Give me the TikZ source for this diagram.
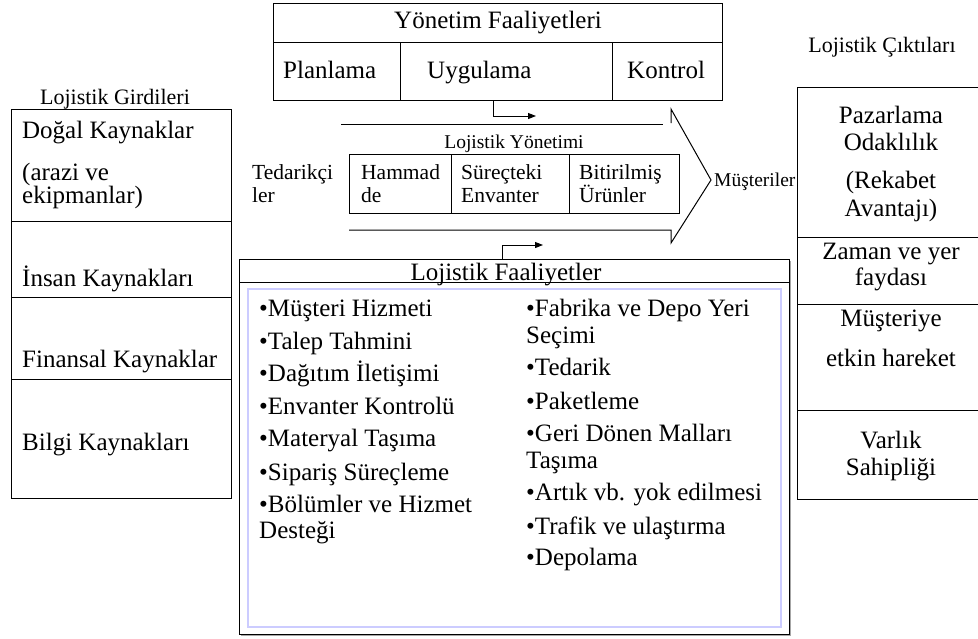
\documentclass[tikz,border=0pt]{standalone}
\usepackage{fontspec}
\setmainfont{Liberation Serif}
\usetikzlibrary{arrows.meta}
\begin{document}
\begin{tikzpicture}[x=1pt,y=-1pt,
  frame/.style={draw=black,line width=1pt,inner sep=0pt,anchor=north west},
  rule/.style={draw=black,line width=1pt},
  big/.style={font=\fontsize{25}{27}\selectfont,inner sep=0pt},
  mid/.style={font=\fontsize{21.5}{23}\selectfont,inner sep=0pt},
  small/.style={font=\fontsize{19.5}{21}\selectfont,inner sep=0pt},
  headtxt/.style={font=\fontsize{22}{24}\selectfont,inner sep=0pt},
  lt/.style={big,anchor=base west},
  ct/.style={big,anchor=base},
  flow/.style={line width=1pt,-{Triangle[length=8pt,width=6pt]}},
]
\useasboundingbox (0,0) rectangle (978,638);
\begin{scope}
\clip (0,0) rectangle (978,638);

% ---------- management activities ----------
\node[frame,minimum width=449pt,minimum height=97pt] (yonetim) at (273,3) {};
\draw[rule] (273,42) -- (722,42);
\draw[rule] (400,42) -- (400,100);
\draw[rule] (612,42) -- (612,100);
\node[ct] (ytitle) at (498,28) {Yönetim Faaliyetleri};
\node[lt] (plan) at (283,78) {Planlama};
\node[lt] (uygu) at (427,78) {Uygulama};
\node[lt] (kontrol) at (627,78) {Kontrol};

% ---------- logistics inputs ----------
\node[frame,minimum width=220pt,minimum height=389pt] (girdiler) at (11,109) {};
\draw[rule] (11,221) -- (231,221);
\draw[rule] (11,297) -- (231,297);
\draw[rule] (11,379) -- (231,379);
\node[headtxt,anchor=base] (girdiT) at (115,104) {Lojistik Girdileri};
\node[lt] (dogal) at (22,138) {Doğal Kaynaklar};
\node[lt] (arazi) at (22,180) {(arazi ve};
\node[lt] (ekip) at (22,203) {ekipmanlar)};
\node[lt] (insan) at (22,286) {İnsan Kaynakları};
\node[lt] (finans) at (22,367) {Finansal Kaynaklar};
\node[lt] (bilgi) at (22,450) {Bilgi Kaynakları};

% ---------- logistics management arrow ----------
\draw[rule] (341,124) -- (663,124);
\draw[rule,line join=miter] (349,230) -- (671,230) -- (671,243) -- (711,180) -- (671,109) -- (671,123);
\node[small,anchor=base] (lyT) at (514,148) {Lojistik Yönetimi};
\node[frame,minimum width=330pt,minimum height=59pt] (akis) at (349,154) {};
\draw[rule] (451,154) -- (451,213);
\draw[rule] (569,154) -- (569,213);
\node[mid,anchor=base west] (ham1) at (361,179) {Hammad};
\node[mid,anchor=base west] (ham2) at (361,202) {de};
\node[mid,anchor=base west] (sur1) at (461,179) {Süreçteki};
\node[mid,anchor=base west] (sur2) at (461,202) {Envanter};
\node[mid,anchor=base west] (bit1) at (579,179) {Bitirilmiş};
\node[mid,anchor=base west] (bit2) at (579,202) {Ürünler};
\node[mid,anchor=base west] (ted1) at (252,179) {Tedarikçi};
\node[mid,anchor=base west] (ted2) at (252,202) {ler};
\node[small,anchor=base west] (must) at (714,186) {Müşteriler};

% ---------- logistics outputs ----------
\node[frame,minimum width=190pt,minimum height=412pt] (ciktilar) at (797,87) {};
\draw[rule] (797,237) -- (990,237);
\draw[rule] (797,304) -- (990,304);
\draw[rule] (797,410) -- (990,410);
\node[headtxt,anchor=base] (ciktiT) at (882,52) {Lojistik Çıktıları};
\node[ct] (paz) at (891,123) {Pazarlama};
\node[ct] (odak) at (891,150) {Odaklılık};
\node[ct] (rek) at (891,188) {(Rekabet};
\node[ct] (avan) at (891,216) {Avantajı)};
\node[ct] (zaman) at (891,259) {Zaman ve yer};
\node[ct] (fayda) at (891,285) {faydası};
\node[ct] (mus) at (891,326) {Müşteriye};
\node[ct] (etkin) at (891,366) {etkin hareket};
\node[ct] (varlik) at (891,448) {Varlık};
\node[ct] (sahip) at (891,475) {Sahipliği};

% ---------- logistics activities ----------
\draw[gray!70,line width=1.2pt] (241,635.5) -- (790.5,635.5) -- (790.5,261);
\node[frame,minimum width=550pt,minimum height=375pt] (faal) at (239,259) {};
\draw[rule] (239,282) -- (789,282);
\draw[draw={rgb,255:red,204;green,204;blue,255},line width=1.5pt] (248,289) rectangle (781,627);
\node[ct] (faalT) at (506,280) {Lojistik Faaliyetler};
\node[lt] (a1) at (259,316) {•Müşteri Hizmeti};
\node[lt] (a2) at (259,349) {•Talep Tahmini};
\node[lt] (a3) at (259,381) {•Dağıtım İletişimi};
\node[lt] (a4) at (259,414) {•Envanter Kontrolü};
\node[lt] (a5) at (259,446) {•Materyal Taşıma};
\node[lt] (a6) at (259,480) {•Sipariş Süreçleme};
\node[lt] (a7) at (259,512) {•Bölümler ve Hizmet};
\node[lt] (a7b) at (259,538) {Desteği};
\node[lt] (b1) at (526,316) {•Fabrika ve Depo Yeri};
\node[lt] (b1b) at (526,343) {Seçimi};
\node[lt] (b2) at (526,375) {•Tedarik};
\node[lt] (b3) at (526,409) {•Paketleme};
\node[lt] (b4) at (526,441) {•Geri Dönen Malları};
\node[lt] (b4b) at (526,468) {Taşıma};
\node[lt] (b5) at (526,500) {•Artık vb. yok edilmesi};
\node[lt] (b6) at (526,534) {•Trafik ve ulaştırma};
\node[lt] (b7) at (526,565) {•Depolama};

% ---------- flow arrows ----------
\coordinate (mgmtEnd) at (536,116);
\coordinate (actEnd) at (543,245);
\draw[flow] ([xshift=-4.5pt]yonetim.south) |- (mgmtEnd);
\draw[flow] ([xshift=-12pt]faal.north) |- (actEnd);
\end{scope}
\end{tikzpicture}
\end{document}
